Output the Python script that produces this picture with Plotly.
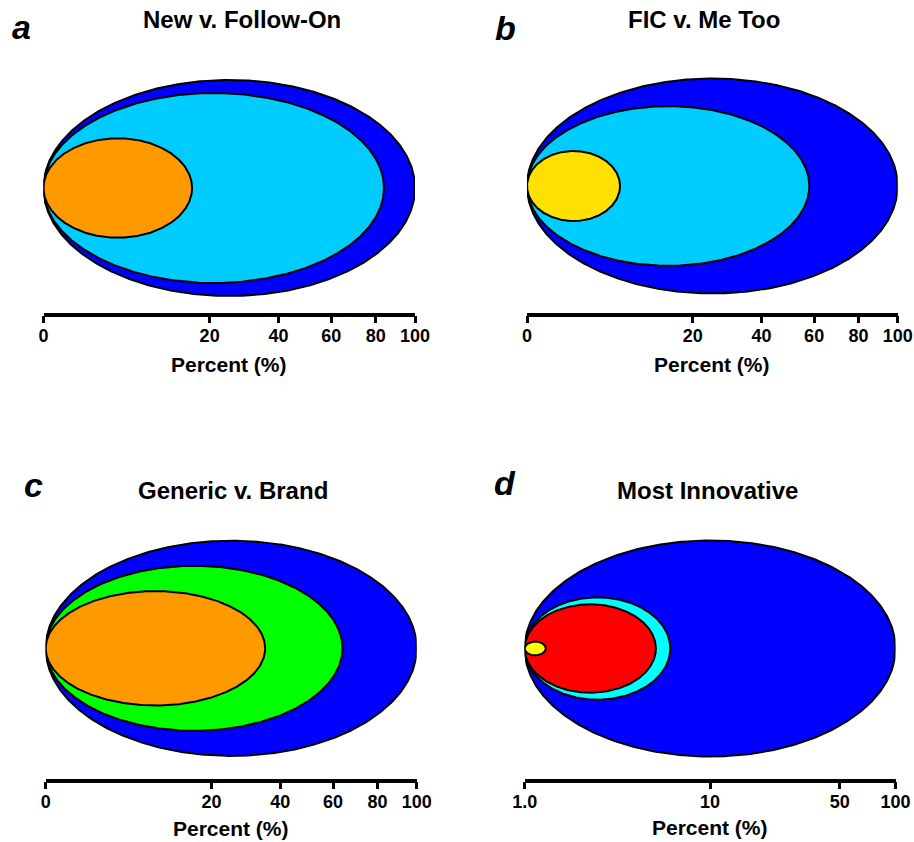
import numpy as np
import plotly.graph_objects as go

W, H = 914, 842
FONT = "Liberation Sans, Arial, sans-serif"

# ---------------- data (percent of total) ----------------
a_groups = ["Total", "Follow-On", "New"]
a_values = [100, 84, 16]

b_groups = ["Total", "Me Too", "FIC"]
b_values = [100, 58, 6.3]

c_groups = ["Total", "Brand", "Generic"]
c_values = [100, 64, 35]

d_groups = ["Total", "Group 2", "Group 3", "Group 4"]
d_values = [100, 6.1, 5.1, 1.3]

sqrt_ticks = [0, 20, 40, 60, 80, 100]
sqrt_ticktext = ["0", "20", "40", "60", "80", "100"]
log_ticks = [1, 10, 50, 100]
log_ticktext = ["1.0", "10", "50", "100"]

titles = ["New v. Follow-On", "FIC v. Me Too", "Generic v. Brand", "Most Innovative"]
letters = ["a", "b", "c", "d"]

# ---------------- styles / layout (pixels) ----------------
panels = [
    dict(values=a_values, groups=a_groups, scale="sqrt",
         colors=["#0000FF", "#00CCFF", "#FF9900"], half=[108, 95, 49.7],
         x0=43.5, x1=415, line_y=314, top_y=40, cy=188,
         title_xy=(241.7, 20), letter_xy=(21, 27), xlabel_y=364),
    dict(values=b_values, groups=b_groups, scale="sqrt",
         colors=["#0000FF", "#00CCFF", "#FFE000"], half=[107.5, 79.8, 35],
         x0=527, x1=897.7, line_y=314, top_y=40, cy=186,
         title_xy=(703.7, 20), letter_xy=(505, 28), xlabel_y=364),
    dict(values=c_values, groups=c_groups, scale="sqrt",
         colors=["#0000FF", "#00FF00", "#FF9900"], half=[107.6, 82.5, 57.2],
         x0=45.7, x1=416.7, line_y=780, top_y=510, cy=648.3,
         title_xy=(233.3, 490), letter_xy=(33, 485), xlabel_y=828),
    dict(values=d_values, groups=d_groups, scale="log",
         colors=["#0000FF", "#00FFFF", "#FF0000", "#FFFF00"], half=[108, 51.2, 44.2, 6.9],
         x0=524.7, x1=895.5, line_y=780, top_y=510, cy=648.5,
         title_xy=(707.7, 490), letter_xy=(505, 483), xlabel_y=827),
]

fig = go.Figure()
annotations = []
t = np.linspace(0, 2 * np.pi, 721)

for i, p in enumerate(panels):
    n = "" if i == 0 else str(i + 1)
    xa, ya = "x" + n, "y" + n
    base = p["line_y"] - 1.5
    yspan = base - p["top_y"]
    cyu = base - p["cy"]
    for val, grp, col, hh in zip(p["values"], p["groups"], p["colors"], p["half"]):
        if p["scale"] == "sqrt":
            R = np.sqrt(val) / 2
            xs = R + R * np.cos(t)
        else:
            R = np.log10(val) / 2
            xs = 10 ** (R + R * np.cos(t))
        ys = cyu + hh * np.sin(t)
        fig.add_trace(go.Scatter(x=xs, y=ys, mode="lines", fill="toself",
                                 fillcolor=col, line=dict(color="black", width=2),
                                 name=grp, hoverinfo="skip", showlegend=False,
                                 xaxis=xa, yaxis=ya))
    xdom = [p["x0"] / W, p["x1"] / W]
    ydom = [1 - base / H, 1 - p["top_y"] / H]
    common = dict(domain=xdom, anchor=ya, showgrid=False, zeroline=False,
                  showline=True, linewidth=3.5, linecolor="black",
                  ticks="outside", ticklen=7, tickwidth=3, tickcolor="black",
                  ticklabelstandoff=-3,
                  tickfont=dict(family=FONT, size=18, color="black", weight="bold"),
                  automargin=False, fixedrange=True)
    if p["scale"] == "sqrt":
        xax = dict(type="linear", range=[0, 10],
                   tickvals=list(np.sqrt(sqrt_ticks)), ticktext=sqrt_ticktext, **common)
    else:
        xax = dict(type="log", range=[0, 2],
                   tickvals=log_ticks, ticktext=log_ticktext, **common)
    yax = dict(domain=ydom, anchor=xa, range=[0, yspan], visible=False,
               automargin=False, fixedrange=True)
    fig.update_layout({"xaxis" + n: xax, "yaxis" + n: yax})

    tx, ty = p["title_xy"]
    annotations.append(dict(text=titles[i], x=tx / W, y=1 - ty / H, xref="paper", yref="paper",
                            showarrow=False, xanchor="center", yanchor="middle",
                            font=dict(family=FONT, size=24, color="black", weight="bold")))
    lx, ly = p["letter_xy"]
    annotations.append(dict(text=letters[i], x=lx / W, y=1 - ly / H, xref="paper", yref="paper",
                            showarrow=False, xanchor="center", yanchor="middle",
                            font=dict(family=FONT, size=34, color="black", weight="bold",
                                      style="italic")))
    annotations.append(dict(text="Percent (%)", x=(p["x0"] + p["x1"]) / 2 / W,
                            y=1 - p["xlabel_y"] / H, xref="paper", yref="paper",
                            showarrow=False, xanchor="center", yanchor="middle",
                            font=dict(family=FONT, size=21, color="black", weight="bold")))

fig.update_layout(width=W, height=H, margin=dict(l=0, r=0, t=0, b=0, autoexpand=False),
                  paper_bgcolor="white", plot_bgcolor="white",
                  annotations=annotations, showlegend=False)

fig.write_html("out.html")
